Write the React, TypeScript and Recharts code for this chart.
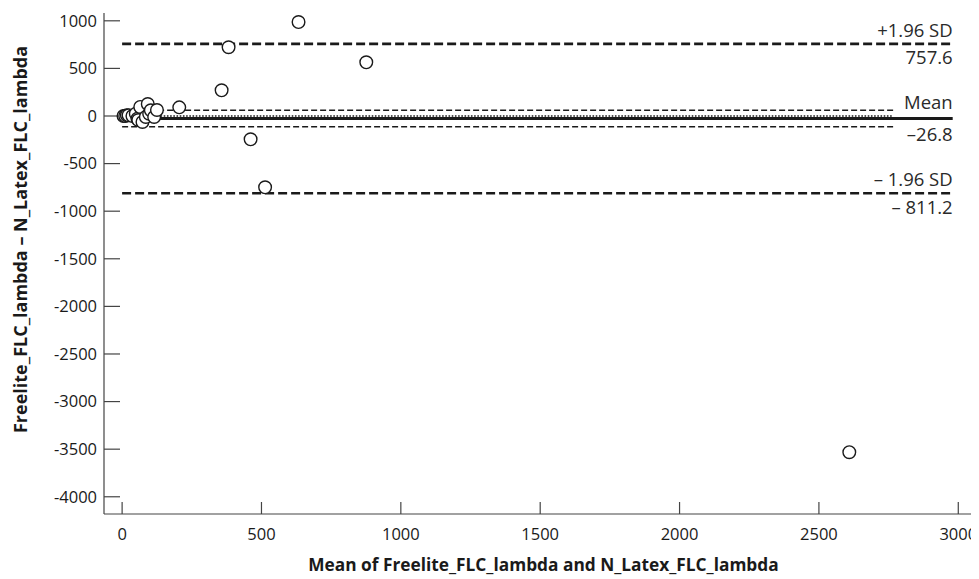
import React from 'react';
import { ScatterChart, Scatter, XAxis, YAxis, ReferenceLine } from 'recharts';

const meanValues = [5, 11, 17, 23, 37, 49, 55, 58, 65, 73, 85, 92, 97, 103, 115, 125, 205, 357, 382, 461, 513, 633, 876, 2609];
const diffValues = [0, 0, 7, 7, 0, 24, -28, -42, 95, -63, -10, 126, 24, 60, -10, 63, 91, 270, 722, -245, -749, 987, 564, -3532];

const xTicks = [0, 500, 1000, 1500, 2000, 2500, 3000];
const yTicks = [1000, 500, 0, -500, -1000, -1500, -2000, -2500, -3000, -3500, -4000];

const upperLimit = 757.6;
const meanDiff = -26.8;
const lowerLimit = -811.2;
const meanCiUpper = 60;
const meanCiLower = -113;
const zeroLine = 0;
const lineStart = 0;
const limitLineEnd = 2980;
const ciLineEnd = 2767;

const upperLabels = ['+1.96 SD', '757.6'];
const meanLabels = ['Mean', '\u201326.8'];
const lowerLabels = ['\u2013 1.96 SD', '\u2013 811.2'];

const xTitle = 'Mean of Freelite_FLC_lambda and N_Latex_FLC_lambda';
const yTitle = 'Freelite_FLC_lambda \u2013 N_Latex_FLC_lambda';

const points = meanValues.map((m, i) => ({ mean: m, diff: diffValues[i] }));

const FONT = "'Open Sans', sans-serif";
const INK = '#1a1a1a';

const makeLineLabel = (texts: string[], above: number, below: number) => (props: any) => {
  const vb = props.viewBox || {};
  const x = (vb.x || 0) + (vb.width || 0);
  const y = vb.y || 0;
  return (
    <g>
      <text x={x} y={y - above} textAnchor="end" fontFamily={FONT} fontSize={18.5} fill="#2a2a2a">
        {texts[0]}
      </text>
      <text x={x} y={y + below} textAnchor="end" fontFamily={FONT} fontSize={18.5} fill="#2a2a2a">
        {texts[1]}
      </text>
    </g>
  );
};

const XTitle = (props: any) => {
  const vb = props.viewBox || {};
  return (
    <text
      x={vb.x + vb.width / 2 + 4}
      y={vb.y + vb.height - 8}
      textAnchor="middle"
      fontFamily={FONT}
      fontWeight={700}
      fontSize={17.3}
      fill={INK}
    >
      {xTitle}
    </text>
  );
};

const YTitle = (props: any) => {
  const vb = props.viewBox || {};
  const cx = vb.x + 12;
  const cy = vb.y + vb.height / 2 - 24;
  return (
    <text
      x={cx}
      y={cy}
      transform={`rotate(-90, ${cx}, ${cy})`}
      textAnchor="middle"
      dominantBaseline="central"
      fontFamily={FONT}
      fontWeight={700}
      fontSize={18}
      fill={INK}
    >
      {yTitle}
    </text>
  );
};

const Circle = (props: any) => (
  <circle cx={props.cx} cy={props.cy} r={6.3} fill="#fff" stroke={INK} strokeWidth={1.4} />
);

export default function App() {
  return (
    <div style={{ width: 971, height: 571, fontFamily: FONT }}>
      <ScatterChart width={971} height={571} margin={{ top: 5, right: 4, bottom: 0, left: 0 }}>
        <XAxis
          type="number"
          dataKey="mean"
          domain={[-65, 3060]}
          ticks={xTicks}
          interval={0}
          allowDataOverflow
          height={65}
          tickSize={-12}
          tickMargin={26}
          axisLine={{ stroke: '#444', strokeWidth: 1.2 }}
          tickLine={{ stroke: '#444', strokeWidth: 1.2 }}
          tick={{ fill: INK, fontSize: 16.5, fontFamily: FONT }}
          label={{ content: XTitle }}
        />
        <YAxis
          type="number"
          dataKey="diff"
          domain={[-4181, 1082]}
          ticks={yTicks}
          interval={0}
          allowDataOverflow
          width={96}
          tickSize={-16}
          tickMargin={23}
          axisLine={{ stroke: '#444', strokeWidth: 1.2 }}
          tickLine={{ stroke: '#444', strokeWidth: 1.2 }}
          tick={{ fill: INK, fontSize: 16.5, fontFamily: FONT }}
          label={{ content: YTitle }}
        />
        <ReferenceLine
          segment={[{ x: lineStart, y: meanCiUpper }, { x: ciLineEnd, y: meanCiUpper }]}
          stroke={INK}
          strokeWidth={1.4}
          strokeDasharray="6 3"
        />
        <ReferenceLine
          segment={[{ x: lineStart, y: meanCiLower }, { x: ciLineEnd, y: meanCiLower }]}
          stroke={INK}
          strokeWidth={1.4}
          strokeDasharray="6 3"
        />
        <ReferenceLine
          segment={[{ x: lineStart, y: zeroLine }, { x: ciLineEnd, y: zeroLine }]}
          stroke={INK}
          strokeWidth={1.6}
          strokeDasharray="1.6 1.6"
        />
        <ReferenceLine
          segment={[{ x: lineStart, y: meanDiff }, { x: limitLineEnd, y: meanDiff }]}
          stroke={INK}
          strokeWidth={3}
          label={{ content: makeLineLabel(meanLabels, 10, 22) }}
        />
        <ReferenceLine
          segment={[{ x: lineStart, y: upperLimit }, { x: limitLineEnd, y: upperLimit }]}
          stroke={INK}
          strokeWidth={2.6}
          strokeDasharray="9 4"
          label={{ content: makeLineLabel(upperLabels, 7, 20) }}
        />
        <ReferenceLine
          segment={[{ x: lineStart, y: lowerLimit }, { x: limitLineEnd, y: lowerLimit }]}
          stroke={INK}
          strokeWidth={2.6}
          strokeDasharray="9 4"
          label={{ content: makeLineLabel(lowerLabels, 7, 21) }}
        />
        <Scatter data={points} shape={Circle} isAnimationActive={false} />
      </ScatterChart>
    </div>
  );
}
